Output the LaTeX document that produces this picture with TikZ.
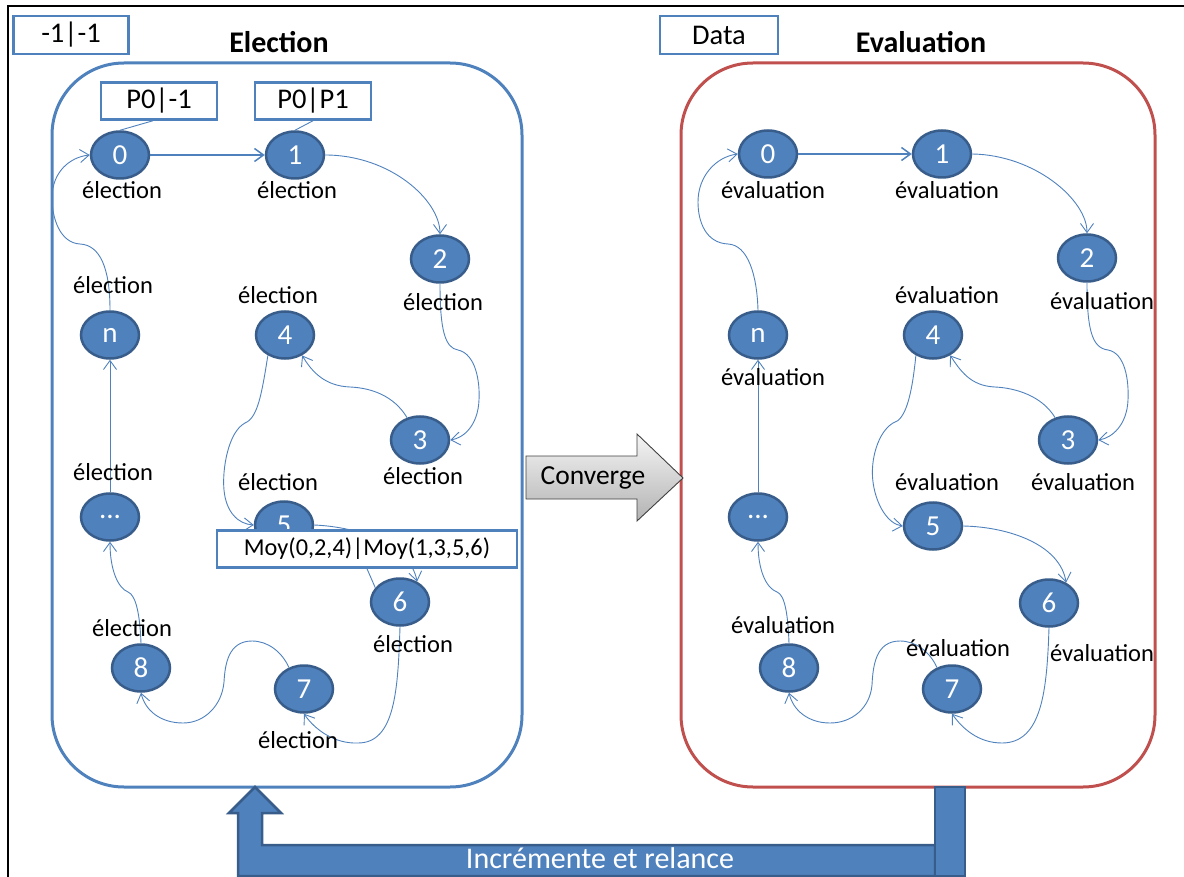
\documentclass[tikz,border=0pt]{standalone}
\usepackage{fontspec}
\setmainfont{Carlito}
\usetikzlibrary{shapes.geometric,arrows.meta}
\definecolor{nodeblue}{HTML}{4F81BD}
\definecolor{nodeedge}{HTML}{385D8A}
\definecolor{panelred}{HTML}{C0504D}

\begin{document}
\begin{tikzpicture}[x=1pt,y=-1pt,
  state/.style={ellipse, fill=nodeblue, draw=nodeedge, line width=2.5pt,
    minimum width=58pt, minimum height=47pt, inner sep=0pt, text=white,
    font=\fontsize{29}{33}\selectfont},
  lbl/.style={font=\fontsize{24.5}{28}\selectfont, inner sep=0pt},
  tagbox/.style={draw=nodeblue, line width=2.5pt, fill=white, inner sep=0pt,
    font=\fontsize{28.5}{32}\selectfont},
  titletext/.style={font=\fontsize{30}{34}\selectfont\bfseries, inner sep=0pt},
  flow/.style={draw=nodeblue, line width=0.9pt,
    -{Straight Barb[length=9pt,width=13pt]}},
  callout/.style={draw=nodeblue, line width=0.9pt},
  panel/.style={line width=3pt, rounded corners=72pt},
  bigarrow/.style={fill=nodeblue, draw=nodeedge, line width=2.5pt, line join=miter}
]
\useasboundingbox (0,0) rectangle (1184,877);

% outer frame
\draw[black, line width=1.6pt] (8,880) -- (8,6) -- (1190,6);

% panels
\draw[panel, draw=nodeblue] (52,63) rectangle (522,787);
\draw[panel, draw=panelred] (681,63) rectangle (1155,787);

% titles and tags
\node[titletext] (titleL) at (279,42) {Election};
\node[titletext] (titleR) at (921,42) {Evaluation};
\node[tagbox, minimum width=115pt, minimum height=38pt] (tagL) at (71,35) {-1|-1};
\node[tagbox, minimum width=118pt, minimum height=38pt] (tagR) at (719,35) {Data};

% ---------- election states ----------
\node[state] (L0) at (120,155) {0};
\node[state] (L1) at (295,155) {1};
\node[state] (L2) at (440,259) {2};
\node[state] (L3) at (420,440) {3};
\node[state] (L4) at (285,335) {4};
\node[state] (Ln) at (110,335) {n};
\node[state] (Ld) at (110,517) {...};
\node[state] (L5) at (284,525) {5};
\node[state] (L6) at (400,602) {6};
\node[state] (L7) at (304,689) {7};
\node[state] (L8) at (141,668) {8};

% ---------- evaluation states ----------
\node[state] (R0) at (768,154) {0};
\node[state] (R1) at (942,154) {1};
\node[state] (R2) at (1087,258) {2};
\node[state] (R3) at (1068,440) {3};
\node[state] (R4) at (933,335) {4};
\node[state] (Rn) at (758,335) {n};
\node[state] (Rd) at (758,517) {...};
\node[state] (R5) at (933,526) {5};
\node[state] (R6) at (1049,603) {6};
\node[state] (R7) at (952,689) {7};
\node[state] (R8) at (789,668) {8};

% ---------- election ring ----------
\draw[flow, line width=1.5pt] (L0.east) -- (L1.west);
\draw[flow] (L1.east) .. controls (390,155) and (440,200) .. (L2.north);
\draw[flow] (L2.south) .. controls (440,330) and (445,348) .. (458,350)
  .. controls (476,354) and (480,382) .. (479,400)
  .. controls (478,425) and (464,438) .. (L3.east);
\draw[flow] (L3.120) .. controls (394,396) and (372,388) .. (350,387)
  .. controls (325,386) and (312,372) .. (L4.-50);
\draw[flow] (L4.-130) .. controls (262,392) and (258,418) .. (245,423)
  .. controls (228,432) and (222,470) .. (224,490)
  .. controls (226,512) and (238,524) .. (L5.west);
\draw[flow] (L5.east) .. controls (360,527) and (410,545) .. (L6.50);
\draw[flow] (L6.south) .. controls (398,690) and (395,743) .. (358,743)
  .. controls (335,744) and (315,730) .. (L7.south);
\draw[flow] (L7.125) .. controls (282,652) and (268,641) .. (252,641)
  .. controls (228,641) and (225,665) .. (224,682)
  .. controls (222,705) and (205,723) .. (183,723)
  .. controls (160,723) and (145,710) .. (L8.south);
\draw[flow] (L8.north) .. controls (140,615) and (136,595) .. (128,592)
  .. controls (118,588) and (110,570) .. (Ld.south);
\draw[flow] (Ld.north) -- (Ln.south);
\draw[flow] (Ln.north) .. controls (110,268) and (100,245) .. (80,244)
  .. controls (60,243) and (52,218) .. (52,198)
  .. controls (52,172) and (70,157) .. (L0.west);

% ---------- evaluation ring ----------
\draw[flow, line width=1.5pt] (R0.east) -- (R1.west);
\draw[flow] (R1.east) .. controls (1035,155) and (1087,200) .. (R2.north);
\draw[flow] (R2.south) .. controls (1087,330) and (1092,348) .. (1108,350)
  .. controls (1125,353) and (1129,380) .. (1128,400)
  .. controls (1127,425) and (1112,438) .. (R3.east);
\draw[flow] (R3.120) .. controls (1042,396) and (1016,388) .. (995,387)
  .. controls (970,386) and (960,370) .. (R4.-50);
\draw[flow] (R4.-130) .. controls (912,394) and (906,420) .. (893,423)
  .. controls (878,432) and (870,460) .. (873,482)
  .. controls (876,505) and (888,524) .. (R5.west);
\draw[flow] (R5.east) .. controls (1010,527) and (1060,545) .. (R6.50);
\draw[flow] (R6.south) .. controls (1047,690) and (1042,743) .. (1002,743)
  .. controls (978,743) and (962,728) .. (R7.south);
\draw[flow] (R7.125) .. controls (930,652) and (916,641) .. (900,641)
  .. controls (876,641) and (873,665) .. (872,685)
  .. controls (870,708) and (852,723) .. (830,723)
  .. controls (808,723) and (793,710) .. (R8.south);
\draw[flow] (R8.north) .. controls (788,615) and (785,595) .. (777,592)
  .. controls (766,588) and (758,570) .. (Rd.south);
\draw[flow] (Rd.north) -- (Rn.south);
\draw[flow] (Rn.north) .. controls (757,275) and (748,245) .. (728,244)
  .. controls (706,243) and (698,222) .. (698,202)
  .. controls (698,176) and (716,157) .. (R0.west);

% ---------- state labels ----------
\node[lbl] (l0lab) at (122,190) {élection};
\node[lbl] (l1lab) at (297,190) {élection};
\node[lbl] (l2lab) at (443,302) {élection};
\node[lbl] (l3lab) at (423,476) {élection};
\node[lbl] (l4lab) at (278,295) {élection};
\node[lbl] (lnlab) at (113,285) {élection};
\node[lbl] (ldlab) at (113,472) {élection};
\node[lbl] (l5lab) at (278,482) {élection};
\node[lbl] (l6lab) at (413,644) {élection};
\node[lbl] (l8lab) at (132,628) {élection};
\node[lbl] (l7lab) at (298,740) {élection};

\node[lbl] (r0lab) at (773,190) {évaluation};
\node[lbl] (r1lab) at (947,190) {évaluation};
\node[lbl] (r2lab) at (1102,301) {évaluation};
\node[lbl] (r4lab) at (947,295) {évaluation};
\node[lbl] (rnlab) at (773,377) {évaluation};
\node[lbl] (r3lab) at (1083,482) {évaluation};
\node[lbl] (r5lab) at (947,482) {évaluation};
\node[lbl] (r8lab) at (783,625) {évaluation};
\node[lbl] (r7lab) at (958,648) {évaluation};
\node[lbl] (r6lab) at (1102,653) {évaluation};

% ---------- vote tags ----------
\node[tagbox, minimum width=116pt, minimum height=37pt] (tag0) at (159,101) {P0|-1};
\node[tagbox, minimum width=116pt, minimum height=37pt] (tag1) at (313,101) {P0|P1};
\draw[callout] (tag0.south) ++(-6,0) -- (L0.north);
\draw[callout] (tag1.south) -- (L1.north);
\node[tagbox, minimum width=300pt, minimum height=37pt,
  font=\fontsize{24.3}{28}\selectfont] (moy) at (367,549) {Moy(0,2,4)|Moy(1,3,5,6)};
\draw[callout] (moy.south) -- (L6.150);

% ---------- convergence arrow ----------
\draw[draw=black!75, line width=0.9pt, line join=miter,
  top color=white!96!black, bottom color=black!30]
  (526,456) -- (637,456) -- (637,434) -- (683,478) -- (637,521)
  -- (637,499) -- (526,499) -- cycle;
\node[font=\fontsize{27.5}{31}\selectfont, inner sep=0pt] (conv) at (593,478) {Converge};

% ---------- restart loop ----------
\draw[bigarrow] (255,787) -- (281,813) -- (262,813) -- (262,845) -- (935,845)
  -- (935,876) -- (238,876) -- (238,813) -- (229,813) -- cycle;
\draw[bigarrow] (935,787) rectangle (965,876);
\node[text=white, font=\fontsize{30}{34}\selectfont, inner sep=0pt] (restart)
  at (600,858) {Incrémente et relance};
\end{tikzpicture}
\end{document}
